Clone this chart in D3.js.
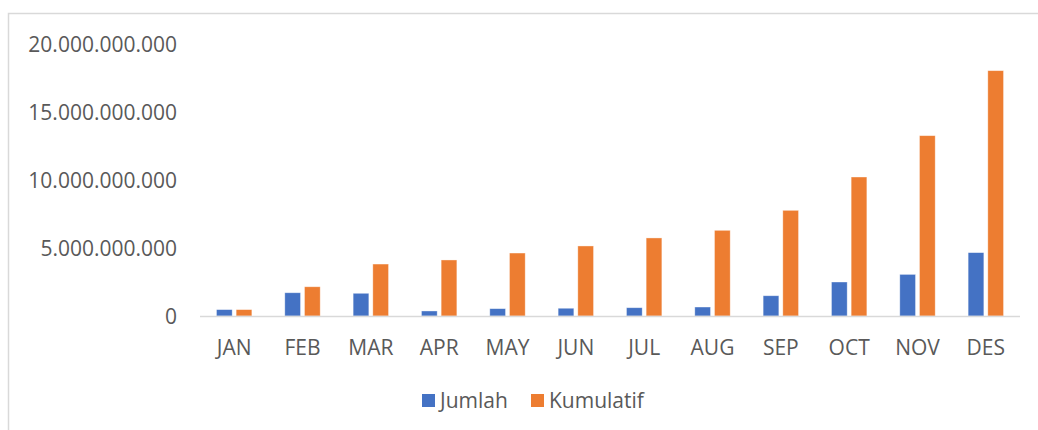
<!DOCTYPE html>
<html>
<head>
<meta charset="utf-8">
<script src="https://cdn.jsdelivr.net/npm/d3@7"></script>
<style>
  body { margin: 0; background: #fff; }
  text { font-family: "Open Sans", sans-serif; fill: #595959; }
</style>
</head>
<body>
<div id="chart"></div>
<script>
const months = ['JAN', 'FEB', 'MAR', 'APR', 'MAY', 'JUN', 'JUL', 'AUG', 'SEP', 'OCT', 'NOV', 'DES'];
const jumlah = [0.47e9, 1.71e9, 1.67e9, 0.37e9, 0.54e9, 0.57e9, 0.61e9, 0.66e9, 1.49e9, 2.5e9, 3.06e9, 4.66e9];
const kumulatif = [0.47e9, 2.15e9, 3.82e9, 4.12e9, 4.63e9, 5.15e9, 5.74e9, 6.3e9, 7.77e9, 10.22e9, 13.26e9, 18.04e9];
const yTicks = [0, 5e9, 10e9, 15e9, 20e9];
const seriesNames = ['Jumlah', 'Kumulatif'];
const colors = ['#4472C4', '#ED7D31'];

const width = 1038, height = 430;

const svg = d3.select('#chart')
    .append('svg')
    .attr('width', width)
    .attr('height', height);

// chart border
svg.append('rect')
    .attr('x', 8.5)
    .attr('y', 13.5)
    .attr('width', 1100)
    .attr('height', 600)
    .attr('fill', 'none')
    .attr('stroke', '#d9d9d9')
    .attr('stroke-width', 1.5);

const x = d3.scaleBand()
    .domain(months)
    .range([200, 1020]);

const y = d3.scaleLinear()
    .domain([0, 20e9])
    .range([316, 44]);

const fmt = v => d3.format(',')(v).replace(/,/g, '.');

// y labels
svg.append('g')
    .selectAll('text')
    .data(yTicks)
    .join('text')
    .attr('x', 177)
    .attr('y', d => y(d))
    .attr('text-anchor', 'end')
    .attr('dominant-baseline', 'central')
    .style('font-size', '21px')
    .text(fmt);

// bars
const bw = x.bandwidth() * 0.23;
const gap = x.bandwidth() * 0.058;
[jumlah, kumulatif].forEach((vals, si) => {
    svg.append('g')
        .selectAll('rect')
        .data(vals)
        .join('rect')
        .attr('x', (d, i) => x(months[i]) + x.bandwidth() / 2 + (si === 0 ? -gap / 2 - bw : gap / 2))
        .attr('y', d => y(d))
        .attr('width', bw)
        .attr('height', d => y(0) - y(d))
        .attr('fill', colors[si])
        .attr('stroke', '#fff')
        .attr('stroke-opacity', 0.5)
        .attr('stroke-width', 0.75);
});

// x axis line
svg.append('line')
    .attr('x1', 200)
    .attr('x2', 1020)
    .attr('y1', y(0) + 0.5)
    .attr('y2', y(0) + 0.5)
    .attr('stroke', '#d9d9d9')
    .attr('stroke-width', 1.5);

// x labels
svg.append('g')
    .selectAll('text')
    .data(months)
    .join('text')
    .attr('x', d => x(d) + x.bandwidth() / 2)
    .attr('y', 347)
    .attr('text-anchor', 'middle')
    .attr('dominant-baseline', 'central')
    .style('font-size', '21px')
    .text(d => d);

// legend
const legendX = [422, 531];
const lg = svg.append('g');
seriesNames.forEach((name, i) => {
    lg.append('rect')
        .attr('x', legendX[i])
        .attr('y', 394)
        .attr('width', 13)
        .attr('height', 13)
        .attr('fill', colors[i]);
    lg.append('text')
        .attr('x', legendX[i] + 18)
        .attr('y', 400)
        .attr('dominant-baseline', 'central')
        .style('font-size', '21px')
        .text(name);
});
</script>
</body>
</html>
